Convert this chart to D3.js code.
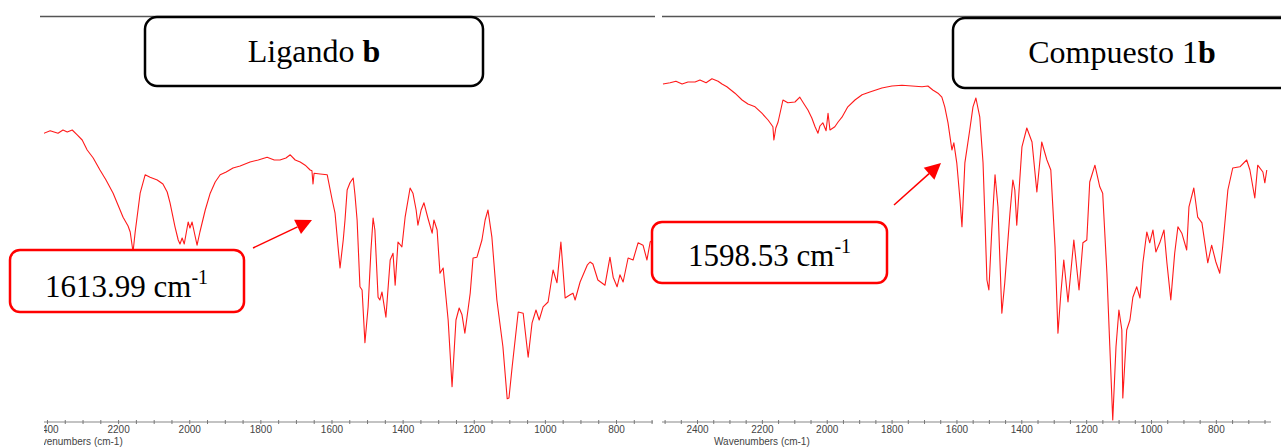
<!DOCTYPE html>
<html><head><meta charset="utf-8">
<script src="https://cdn.jsdelivr.net/npm/d3@7"></script>
<style>body{margin:0;background:#fff}svg{display:block}</style>
</head><body>
<svg id="c" width="1281" height="447"></svg>
<script>
// Ligando b spectrum (wavenumber cm-1, %T arbitrary)
const ligWave = [2414,2391,2369,2355,2343,2329,2315,2301,2287,2270,2251,2234,2214,2200,2186,2172,2166,2158,2152,2138,2124,2110,2090,2074,2062,2054,2040,2031,2026,2020,2014,2003,1998,1992,1978,1970,1955,1941,1927,1913,1896,1877,1857,1829,1806,1781,1761,1745,1728,1716,1702,1688,1674,1660,1655,1652,1649,1632,1612,1598,1590,1582,1576,1567,1562,1556,1548,1539,1534,1528,1520,1514,1506,1497,1489,1483,1478,1469,1464,1458,1447,1435,1427,1421,1413,1402,1393,1379,1371,1362,1357,1348,1340,1329,1317,1312,1303,1295,1286,1272,1261,1250,1241,1233,1225,1210,1202,1191,1177,1168,1160,1149,1135,1118,1106,1101,1092,1075,1061,1047,1036,1025,1016,1005,991,977,966,955,943,929,921,915,901,881,873,865,851,831,817,808,797,789,780,766,752,738,724,713,704,690];
const ligT = [72.0,72.8,72.2,73.0,72.5,73.0,71.8,70.5,68.0,66.0,63.0,60.5,57.2,54.2,51.2,49.0,47.5,42.5,47.5,57.2,61.8,61.2,60.5,59.5,57.5,54.8,48.8,45.5,44.5,46.0,44.5,50.0,48.5,50.0,44.2,47.5,53.0,57.2,60.0,61.8,62.5,63.5,64.0,65.0,65.5,66.2,65.5,65.5,66.0,66.8,65.5,65.0,64.2,63.0,62.8,59.5,62.2,62.0,61.8,55.5,52.2,44.2,38.5,45.5,50.5,58.0,59.8,61.0,56.8,50.5,33.8,33.0,19.8,28.8,43.0,51.0,48.0,31.2,30.5,32.5,26.2,40.5,42.2,34.2,45.0,43.8,51.2,58.5,57.2,53.0,49.2,53.0,54.8,51.0,47.2,50.5,48.0,37.2,38.5,25.5,8.8,25.5,28.5,26.8,22.2,32.2,41.0,41.2,45.5,50.5,53.0,46.2,30.5,18.8,5.8,6.0,13.8,27.5,27.2,16.2,24.8,28.0,25.5,28.8,30.0,38.0,34.8,45.0,31.0,31.8,32.2,30.5,35.0,39.2,40.0,39.5,35.5,34.2,41.2,36.2,33.8,36.8,35.0,41.0,40.5,44.8,44.2,40.5,45.0,46.0];

// Compuesto 1b spectrum
const compWave = [2505,2483,2465,2446,2428,2406,2391,2372,2354,2335,2323,2308,2283,2261,2243,2221,2200,2181,2172,2166,2163,2157,2150,2135,2120,2098,2083,2070,2058,2046,2036,2027,2021,2012,2002,1996,1990,1975,1965,1953,1935,1913,1891,1867,1830,1799,1768,1737,1706,1688,1673,1657,1645,1636,1626,1614,1608,1599,1589,1583,1574,1559,1549,1540,1528,1518,1512,1506,1500,1491,1481,1472,1460,1451,1435,1426,1420,1414,1398,1383,1367,1352,1337,1321,1309,1296,1287,1278,1269,1256,1238,1222,1210,1198,1189,1173,1158,1149,1136,1127,1118,1108,1099,1090,1087,1075,1065,1056,1044,1034,1025,1013,1004,994,985,973,960,951,939,927,917,905,890,883,868,856,843,825,813,800,788,779,763,748,726,705,695,680,671,655,649,643];
const compT = [84.5,84.8,85.2,84.5,85.0,85.0,85.5,84.8,85.8,85.2,84.5,83.8,82.2,80.5,79.5,78.8,77.2,75.5,74.5,73.8,70.5,73.5,75.0,80.5,79.8,80.0,81.2,79.5,78.0,76.0,73.8,72.2,74.0,74.8,72.8,77.2,73.0,73.8,75.0,76.2,78.8,80.5,81.8,82.5,83.5,84.0,84.2,84.0,83.8,84.0,83.0,82.2,81.2,78.8,74.8,68.0,69.8,64.8,55.5,48.8,64.8,73.0,78.8,81.0,76.2,64.8,50.5,35.5,33.0,48.0,61.8,53.8,27.2,34.8,52.2,60.5,58.0,49.2,68.8,73.5,70.0,57.5,70.0,65.5,63.0,43.8,22.2,32.2,40.5,30.0,45.5,33.0,44.8,45.5,60.0,64.2,58.8,57.2,37.2,18.8,0.5,18.8,28.0,23.0,6.0,23.0,25.5,31.2,33.8,31.0,39.8,47.5,44.8,48.0,42.5,44.8,48.0,39.8,30.5,42.2,48.8,47.2,43.0,53.8,58.5,51.2,49.8,39.8,44.2,40.0,37.2,43.8,58.0,63.5,63.8,65.5,63.0,56.0,64.2,62.5,59.8,63.0];

const tickVals = d3.range(650, 2551, 50);
const labelStep = 200;
const titles = ["Ligando ", "Compuesto 1"];
const bolds = ["b", "b"];
const peakLabels = ["1613.99 cm", "1598.53 cm"];
const supText = "-1";
const axisTitle = "Wavenumbers (cm-1)";

const svg = d3.select("#c");
const y = d3.scaleLinear().domain([0, 100]).range([422, 22]);

const panels = [
  {wave: ligWave, T: ligT, dom: [2414, 696], rng: [42, 653], clip: [44, 656], line: [40, 655], axisLabelX: 27,
   box: {x:145, y:17, w:338, h:69}, tx: 314, ty: 62, title: 0,
   red: {x:10, y:250, w:234, h:62}, rtx: 45, rty: 297, arrow: [253,248,312,220]},
  {wave: compWave, T: compT, dom: [2508, 630], rng: [662, 1271], clip: [660, 1281], line: [662, 1281], axisLabelX: 714,
   box: {x:953, y:18, w:345, h:70}, tx: 1122, ty: 63, title: 1,
   red: {x:652, y:222, w:235, h:61}, rtx: 688, rty: 266, arrow: [894,205,941,163]}
];

const defs = svg.append("defs");
panels.forEach((p, i) => {
  defs.append("clipPath").attr("id", "clip" + i).append("rect")
    .attr("x", p.clip[0]).attr("y", 0).attr("width", p.clip[1] - p.clip[0]).attr("height", 447);
});

panels.forEach((p, i) => {
  const x = d3.scaleLinear().domain(p.dom).range(p.rng);
  // top rule
  svg.append("line").attr("x1", p.line[0]).attr("x2", p.line[1]).attr("y1", 16.5).attr("y2", 16.5)
    .attr("stroke", "#555").attr("stroke-width", 1.3);

  const g = svg.append("g").attr("clip-path", `url(#clip${i})`);
  // axis
  const ax = d3.axisBottom(x).tickValues(tickVals.filter(v => v >= Math.min(...p.dom) && v <= Math.max(...p.dom)))
    .tickSize(2).tickPadding(4)
    .tickFormat(d => d % labelStep === 0 ? d : "");
  const axg = g.append("g").attr("transform", "translate(0,422)").call(ax);
  axg.select(".domain").attr("stroke", "#888").attr("stroke-width", 1.2)
    .attr("d", `M${p.rng[0]},0H${p.rng[1]}`);
  axg.selectAll(".tick line").attr("stroke", "#777").attr("y1", -2).attr("y2", 2);
  axg.selectAll(".tick text").attr("font-family", "Liberation Sans, Arial, sans-serif")
    .attr("font-size", 10).attr("fill", "#444").attr("y", 4);
  g.append("text").attr("x", p.axisLabelX).attr("y", 445).text(axisTitle)
    .attr("font-family", "Liberation Sans, Arial, sans-serif").attr("font-size", 10).attr("fill", "#444");

  // spectrum
  const pts = p.wave.map((w, k) => [w, p.T[k]]);
  g.append("path").datum(pts)
    .attr("d", d3.line().x(d => x(d[0])).y(d => y(d[1])))
    .attr("fill", "none").attr("stroke", "#ff1a1a").attr("stroke-width", 1.1).attr("stroke-linejoin", "round");

  // title box
  svg.append("rect").attr("x", p.box.x).attr("y", p.box.y).attr("width", p.box.w).attr("height", p.box.h)
    .attr("rx", 12).attr("fill", "#fff").attr("stroke", "#000").attr("stroke-width", 2.5);
  const t = svg.append("text").attr("x", p.tx).attr("y", p.ty).attr("text-anchor", "middle")
    .attr("font-family", "Liberation Serif, Times New Roman, serif").attr("font-size", 32).attr("fill", "#000");
  t.append("tspan").text(titles[p.title]);
  t.append("tspan").attr("font-weight", "bold").text(bolds[p.title]);

  // red peak box
  svg.append("rect").attr("x", p.red.x).attr("y", p.red.y).attr("width", p.red.w).attr("height", p.red.h)
    .attr("rx", 10).attr("fill", "#fff").attr("stroke", "#ff0000").attr("stroke-width", 2.5);
  const rt = svg.append("text").attr("x", p.rtx).attr("y", p.rty)
    .attr("font-family", "Liberation Serif, Times New Roman, serif").attr("font-size", 31).attr("fill", "#000");
  rt.append("tspan").text(peakLabels[i]);
  rt.append("tspan").attr("font-size", 20).attr("dy", -13).text(supText);

  // arrow
  const [x1, y1, x2, y2] = p.arrow;
  const ang = Math.atan2(y2 - y1, x2 - x1);
  const L = 16, W = 8;
  const bx = x2 - L * Math.cos(ang), by = y2 - L * Math.sin(ang);
  svg.append("line").attr("x1", x1).attr("y1", y1).attr("x2", bx).attr("y2", by)
    .attr("stroke", "#ff0000").attr("stroke-width", 1.5);
  svg.append("path").attr("d", `M${x2},${y2}L${bx + W*Math.sin(ang)},${by - W*Math.cos(ang)}L${bx - W*Math.sin(ang)},${by + W*Math.cos(ang)}Z`)
    .attr("fill", "#ff0000");
});
</script>
</body></html>
